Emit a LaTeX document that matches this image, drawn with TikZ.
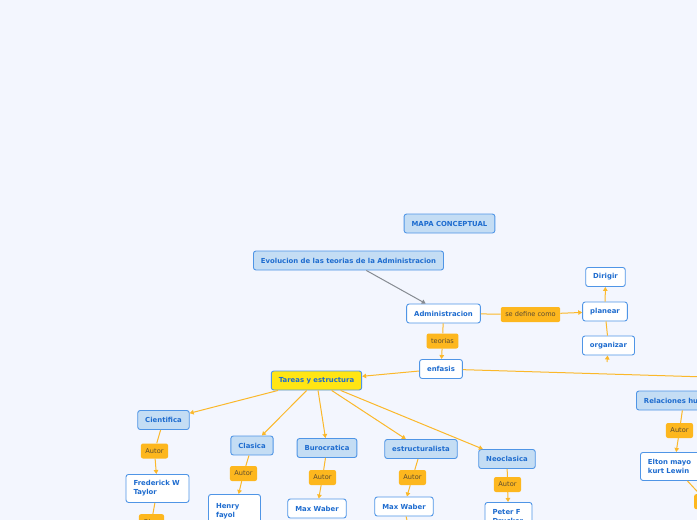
\documentclass[tikz,border=0pt]{standalone}
\usepackage{fontspec}
\setmainfont{DejaVu Sans}
\usepackage{tikz}
\usetikzlibrary{arrows.meta}
\tikzset{>={Triangle[width=4.5pt,length=4pt]}}

\definecolor{bgcol}{HTML}{F3F6FE}
\definecolor{bordblue}{HTML}{4F95E6}
\definecolor{txtblue}{HTML}{1E6CCF}
\definecolor{topicfill}{HTML}{C4DDF4}
\definecolor{tareafill}{HTML}{FFE514}
\definecolor{lblfill}{HTML}{FDB71E}
\definecolor{lbltxt}{HTML}{5A4A30}
\definecolor{linkcol}{HTML}{FBB82A}
\definecolor{graylink}{HTML}{868B92}

\tikzset{
  concept/.style={draw=bordblue, line width=0.9pt, rounded corners=2.5pt, fill=white,
    text=txtblue, font=\fontsize{6.9}{9}\selectfont\bfseries, inner xsep=7.5pt,
    inner ysep=2pt, minimum height=19pt},
  topic/.style={concept, fill=topicfill},
  person/.style={concept, align=left, minimum height=28pt, anchor=north},
  lbl/.style={fill=lblfill, rounded corners=2pt, text=lbltxt,
    font=\fontsize{6.6}{7}\selectfont, inner xsep=4.5pt, minimum height=15pt},
  link/.style={draw=linkcol, line width=1pt},
}

\begin{document}
\begin{tikzpicture}[x=1pt,y=-1pt]
  \useasboundingbox (0,0) rectangle (697,520);
  \fill[bgcol] (0,0) rectangle (697,520);
  \clip (0,0) rectangle (697,520);

  %% title and root
  \node[topic] (mapa) at (449.5,223.5) {MAPA CONCEPTUAL};
  \node[topic] (evol) at (348.5,260.5) {Evolucion de las teorias de la Administracion};
  \node[concept] (admin) at (443.5,313.5) {Administracion};

  %% se define como
  \node[lbl] (sedef) at (530.5,314.5) {se define como};
  \node[concept] (planear) at (605,311.5) {planear};
  \node[concept] (dirigir) at (605.5,277) {Dirigir};
  \node[concept] (organizar) at (608.5,345.5) {organizar};
  \coordinate (orgbase) at (607,362);

  %% teorias
  \node[lbl] (teorias) at (442.5,341) {teorias};
  \node[concept] (enfasis) at (441,369) {enfasis};
  \coordinate (enfasisfin) at (740,378);
  \node[concept, fill=tareafill] (tareas) at (316.5,380.5) {Tareas y estructura};

  %% escuelas
  \node[topic] (cientifica) at (163.5,420) {Cientifica};
  \node[topic] (clasica) at (252,445.5) {Clasica};
  \node[topic] (burocratica) at (327,448) {Burocratica};
  \node[topic] (estructural) at (421,449) {estructuralista};
  \node[topic] (neoclasica) at (507,459) {Neoclasica};
  \node[topic, anchor=west] (relaciones) at (636,400.5) {Relaciones humanas};

  \node[lbl] (autor1) at (154.5,451) {Autor};
  \node[lbl] (autor2) at (243.5,473.5) {Autor};
  \node[lbl] (autor3) at (322.5,477.5) {Autor};
  \node[lbl] (autor4) at (412.5,477.5) {Autor};
  \node[lbl] (autor5) at (507.5,484.5) {Autor};
  \node[lbl] (autor6) at (679.5,430.5) {Autor};

  %% autores
  \node[person, text width=48pt] (taylor) at (157.5,474) {Frederick W\\Taylor};
  \node[person, text width=37pt, minimum height=34pt] (fayol) at (234.5,494) {Henry\\fayol};
  \node[concept] (weber1) at (317,508.5) {Max Waber};
  \node[concept] (weber2) at (404,506.5) {Max Waber};
  \node[person, text width=32pt] (drucker) at (508.5,502) {Peter F\\Drucker};
  \node[person, text width=52pt, anchor=north west] (mayo) at (640,452) {Elton mayo\\kurt Lewin};

  \node[lbl, anchor=north, minimum width=21pt] (obra1) at (151.5,514) {Obra};
  \node[lbl, anchor=north west] (obra2) at (694,494) {Obra};
  \coordinate (weber2fin) at (409,530);

  %% conectores
  \draw[->, graylink, line width=1pt] (evol) -- (admin);
  \draw[link] (admin) -- (sedef);
  \draw[link, ->] (sedef) -- (planear);
  \draw[link, ->] (planear) -- (dirigir);
  \draw[link] (organizar) -- (planear);
  \draw[link, ->] (orgbase) -- (organizar);

  \draw[link] (admin) -- (teorias);
  \draw[link, ->] (teorias) -- (enfasis);
  \draw[link, ->] (enfasis) -- (tareas);
  \draw[link] (enfasis) -- (enfasisfin);

  \foreach \esc in {cientifica, clasica, burocratica, estructural, neoclasica}
    \draw[link, ->] (tareas) -- (\esc);

  \draw[link] (cientifica) -- (autor1);
  \draw[link, ->] (autor1) -- (taylor);
  \draw[link] (clasica) -- (autor2);
  \draw[link, ->] (autor2) -- (fayol);
  \draw[link] (burocratica) -- (autor3);
  \draw[link, ->] (autor3) -- (weber1);
  \draw[link] (estructural) -- (autor4);
  \draw[link, ->] (autor4) -- (weber2);
  \draw[link] (neoclasica) -- (autor5);
  \draw[link, ->] (autor5) -- (drucker);
  \draw[link] (relaciones) -- (autor6);
  \draw[link, ->] (autor6) -- (mayo);

  \draw[link] (taylor) -- (obra1);
  \draw[link] (mayo) -- (obra2);
  \draw[link] (weber2) -- (weber2fin);
\end{tikzpicture}
\end{document}
